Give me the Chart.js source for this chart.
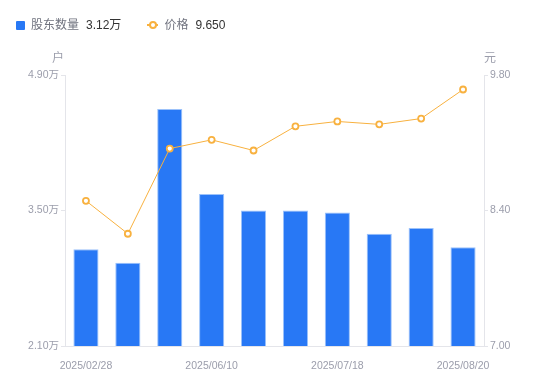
<!DOCTYPE html>
<html>
<head>
<meta charset="utf-8">
<script src="https://cdn.jsdelivr.net/npm/chart.js@4/dist/chart.umd.min.js"></script>
<style>
  body { margin: 0; background: #fff; font-family: "Liberation Sans", "Noto Sans CJK SC", sans-serif; }
  #wrap { position: relative; width: 550px; height: 381px; }
  #legend { position: absolute; left: 16px; top: 16px; font-size: 12px; line-height: 18px; display: flex; align-items: center; }
  .item { display: flex; align-items: center; margin-right: 26px; }
  .name { color: #70737f; margin-right: 7px; }
  .val { color: #333; }
  .sq { width: 9px; height: 9px; background: #2878f5; border-radius: 1px; margin-right: 6px; }
  .ln { position: relative; width: 11px; height: 2px; background: #f8b13f; margin-right: 6px; }
  .ln::after { content: ''; position: absolute; left: 2px; top: -3px; width: 4px; height: 4px; border: 2px solid #f8b13f; border-radius: 50%; background: #fff; }
</style>
</head>
<body>
<div id="wrap">
  <div id="legend">
    <div class="item"><span class="sq"></span><span class="name">股东数量</span><span class="val" id="v1"></span></div>
    <div class="item"><span class="ln"></span><span class="name">价格</span><span class="val" id="v2"></span></div>
  </div>
  <canvas id="chart" width="550" height="381"></canvas>
</div>
<script>
// dates of each report
const dates = ['2025/02/28', '2025/03/31', '2025/04/30', '2025/06/10', '2025/06/20',
  '2025/06/30', '2025/07/18', '2025/07/31', '2025/08/10', '2025/08/20'];
// shareholders, unit 万户
const holders = [3.10, 2.96, 4.55, 3.67, 3.50, 3.50, 3.48, 3.26, 3.32, 3.12];
// price, unit 元
const price = [8.50, 8.16, 9.04, 9.13, 9.02, 9.27, 9.32, 9.29, 9.35, 9.65];
const leftTicks = [2.10, 3.50, 4.90];
const rightTicks = [7.00, 8.40, 9.80];
const shownDates = [0, 3, 6, 9];

document.getElementById('v1').textContent = holders[holders.length - 1].toFixed(2) + '万';
document.getElementById('v2').textContent = price[price.length - 1].toFixed(3);

const tickColor = '#9b9dab';
const lineColor = '#e4e5ea';

// unit labels above the two y axes
const unitTitles = {
  id: 'unitTitles',
  afterDraw(chart) {
    const ctx = chart.ctx;
    const area = chart.chartArea;
    ctx.save();
    ctx.font = '12px "Noto Sans CJK SC", sans-serif';
    ctx.fillStyle = tickColor;
    ctx.textAlign = 'center';
    ctx.textBaseline = 'middle';
    ctx.fillText('户', area.left - 7, area.top - 18);
    ctx.fillText('元', area.right + 6, area.top - 18);
    ctx.restore();
  }
};

const ctx = document.getElementById('chart').getContext('2d');
const chart = new Chart(ctx, {
  data: {
    labels: dates,
    datasets: [{
      type: 'line',
      label: '价格',
      data: price,
      yAxisID: 'y1',
      borderColor: '#f8b13f',
      borderWidth: 1,
      pointRadius: 3,
      pointBorderWidth: 1.8,
      pointBackgroundColor: '#fff',
      pointBorderColor: '#f8b13f',
      tension: 0,
      order: 0
    }, {
      type: 'bar',
      label: '股东数量',
      data: holders,
      yAxisID: 'y',
      backgroundColor: '#2878f5',
      borderColor: '#9cc2fa',
      borderWidth: { top: 1, left: 1, right: 1, bottom: 0 },
      borderSkipped: 'bottom',
      categoryPercentage: 0.6,
      barPercentage: 1,
      order: 1
    }]
  },
  options: {
    responsive: false,
    animation: false,
    layout: { padding: { top: 75, left: 0, right: 0, bottom: 0 } },
    plugins: {
      legend: { display: false },
      tooltip: { enabled: false }
    },
    scales: {
      x: {
        grid: { display: false },
        border: { color: lineColor },
        ticks: {
          autoSkip: false,
          maxRotation: 0,
          color: tickColor,
          font: { size: 10.5, family: '"Liberation Sans", sans-serif' },
          padding: 6,
          callback: (v, i) => shownDates.includes(i) ? dates[i] : ''
        },
        afterFit: s => { s.height = 35; }
      },
      y: {
        position: 'left',
        min: 2.10,
        max: 4.90,
        grid: { drawOnChartArea: false, tickLength: 4, color: lineColor },
        border: { color: lineColor },
        ticks: {
          color: tickColor,
          padding: 2,
          font: { size: 10.5, family: '"Liberation Sans", "Noto Sans CJK SC", sans-serif' },
          callback: v => v.toFixed(2) + '万'
        },
        afterBuildTicks: s => { s.ticks = leftTicks.map(v => ({ value: v })); },
        afterFit: s => { s.width = 65; }
      },
      y1: {
        position: 'right',
        min: 7.00,
        max: 9.80,
        grid: { drawOnChartArea: false, tickLength: 4, color: lineColor },
        border: { color: lineColor },
        ticks: {
          color: tickColor,
          padding: 2,
          font: { size: 10.5, family: '"Liberation Sans", sans-serif' },
          callback: v => v.toFixed(2)
        },
        afterBuildTicks: s => { s.ticks = rightTicks.map(v => ({ value: v })); },
        afterFit: s => { s.width = 66; }
      }
    }
  },
  plugins: [unitTitles]
});
</script>
</body>
</html>
